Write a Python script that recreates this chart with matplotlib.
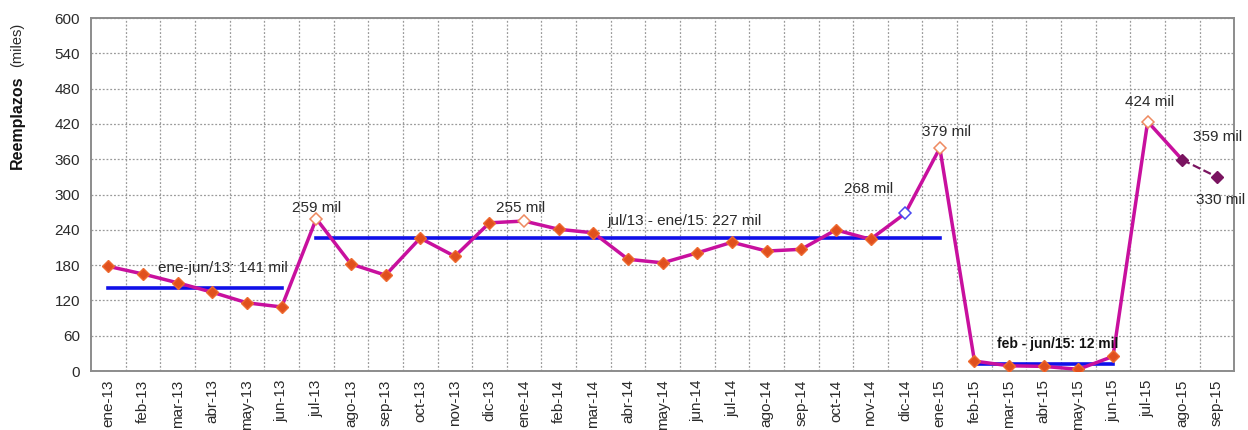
import matplotlib

matplotlib.use("Agg")
import matplotlib.pyplot as plt
from matplotlib.ticker import FixedLocator, MultipleLocator

months = ["ene-13", "feb-13", "mar-13", "abr-13", "may-13", "jun-13",
          "jul-13", "ago-13", "sep-13", "oct-13", "nov-13", "dic-13",
          "ene-14", "feb-14", "mar-14", "abr-14", "may-14", "jun-14",
          "jul-14", "ago-14", "sep-14", "oct-14", "nov-14", "dic-14",
          "ene-15", "feb-15", "mar-15", "abr-15", "may-15", "jun-15",
          "jul-15", "ago-15", "sep-15"]
reemplazos = [178, 165, 150, 134, 116, 109,
              259, 182, 163, 226, 195, 252,
              255, 241, 235, 190, 184, 201,
              219, 204, 207, 240, 224, 268,
              379, 17, 9, 8, 3, 25,
              424, 359, 330]

# period averages: (first index, last index, value, label)
periods = [(0, 5, 141, "ene-jun/13: 141 mil"),
           (6, 24, 227, "jul/13 - ene/15: 227 mil"),
           (25, 29, 12, "feb - jun/15: 12 mil")]

highlight_orange = [6, 12, 24, 30]
highlight_blue = [23]
projected = [31, 32]

LINE = "#C8109E"
MARK = "#E0501E"
PROJ = "#7A1460"
AVG = "#1010E8"
TXT = "#2A2A2A"

plt.rcParams["font.family"] = ["Liberation Sans", "DejaVu Sans"]

fig = plt.figure(figsize=(12.48, 4.30), dpi=100)
ax = fig.add_axes([0.073, 0.137, 0.916, 0.821])

x = list(range(len(months)))
solid_end = projected[0] + 1
ax.plot(x[:solid_end], reemplazos[:solid_end], color=LINE, lw=2.5, zorder=3)
ax.plot(x[projected[0]:], reemplazos[projected[0]:], color=PROJ, lw=1.6, ls="--", zorder=3)

normal = [i for i in x if i not in highlight_orange + highlight_blue + projected]
ax.plot(normal, [reemplazos[i] for i in normal], ls="none", marker="D", ms=6.5,
        mfc=MARK, mec="#EE6A30", zorder=4)
ax.plot(highlight_orange, [reemplazos[i] for i in highlight_orange], ls="none", marker="D",
        ms=6.5, mfc="white", mec="#EE8A60", mew=1.1, zorder=4)
ax.plot(highlight_blue, [reemplazos[i] for i in highlight_blue], ls="none", marker="D",
        ms=6.5, mfc="white", mec="#4A4AF0", mew=1.1, zorder=4)
ax.plot(projected, [reemplazos[i] for i in projected], ls="none", marker="D", ms=6,
        mfc=PROJ, mec=PROJ, zorder=4)

for start, end, value, label in periods:
    ax.plot([start, end], [value, value], color=AVG, lw=2.6, zorder=2)

# period labels
ax.text(1.43, 175, periods[0][3], fontsize=11, va="center", ha="left", color=TXT)
ax.text(14.4, 255, periods[1][3], fontsize=11, va="center", ha="left", color=TXT)
ax.text(27.4, 46, periods[2][3], fontsize=10, va="center", ha="center",
        fontweight="bold", color="#111111")

# point labels
ax.text(6, 277, "259 mil", fontsize=11, ha="center", va="center", color=TXT)
ax.text(11.9, 277, "255 mil", fontsize=11, ha="center", va="center", color=TXT)
ax.text(22.65, 309, "268 mil", fontsize=11, ha="right", va="center", color=TXT)
ax.text(24.2, 406, "379 mil", fontsize=11, ha="center", va="center", color=TXT)
ax.text(30.05, 457, "424 mil", fontsize=11, ha="center", va="center", color=TXT)
ax.text(31.3, 398, "359 mil", fontsize=11, ha="left", va="center", color=TXT)
ax.text(31.4, 291, "330 mil", fontsize=11, ha="left", va="center", color=TXT)

ax.set_xlim(-0.5, len(months) - 0.5)
ax.set_ylim(0, 600)
ax.yaxis.set_major_locator(MultipleLocator(60))
ax.set_xticks(x)
ax.set_xticklabels(months, rotation=90, fontsize=11, color=TXT)
ax.xaxis.set_minor_locator(FixedLocator([i + 0.5 for i in x[:-1]]))
ax.tick_params(axis="both", which="both", length=0)
ax.tick_params(axis="y", labelsize=11, labelcolor=TXT, pad=8)
ax.tick_params(axis="x", pad=6)

ax.grid(axis="y", which="major", color="#9A9A9A", ls=(0, (1.5, 1.5)), lw=0.9)
ax.grid(axis="x", which="minor", color="#9A9A9A", ls=(0, (1.5, 1.5)), lw=0.9)
ax.set_axisbelow(True)
for spine in ax.spines.values():
    spine.set_color("#8C8C8C")
    spine.set_linewidth(1.4)

fig.text(0.014, 0.715, "Reemplazos", rotation=90, ha="center", va="center",
         fontsize=11.5, fontweight="bold", color="#111111")
fig.text(0.014, 0.895, "(miles)", rotation=90, ha="center", va="center",
         fontsize=10.5, color=TXT)

fig.savefig("out.png", dpi=100)
